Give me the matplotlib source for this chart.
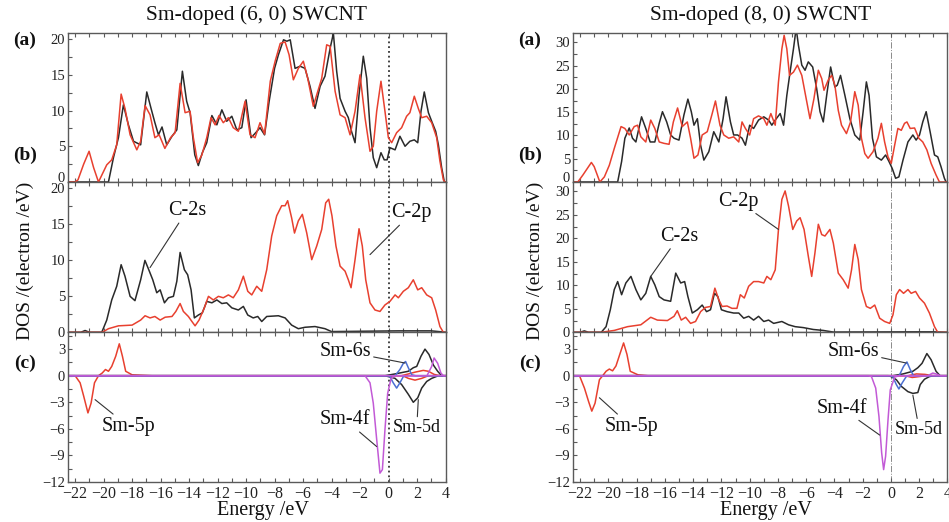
import matplotlib
matplotlib.use("Agg")
import matplotlib.pyplot as plt
from matplotlib.ticker import MultipleLocator

plt.rcParams['font.family'] = ['Liberation Serif', 'DejaVu Serif']
plt.rcParams['mathtext.fontset'] = 'stix'

# ---------------- data: (energy eV, DOS) ----------------
titles = ["Sm-doped (6, 0) SWCNT", "Sm-doped (8, 0) SWCNT"]
xticks = [-22, -20, -18, -16, -14, -12, -10, -8, -6, -4, -2, 0, 2, 4]

# (6,0) panel (a): total DOS, pristine-like (black) and Sm-doped (red)
l_a_black = [(-22.5,0),(-19.66,0),(-19.31,3.4),(-18.96,6.2),(-18.61,10.8),(-18.26,8.0),(-17.9,5.7),(-17.4,5.2),(-16.97,12.6),(-16.67,10.3),(-16.4,8.3),(-16.15,6.6),(-15.9,7.7),(-15.57,5.2),(-15.2,6.4),(-14.86,7.3),(-14.47,15.5),(-14.17,11.3),(-13.93,9.7),(-13.6,3.8),(-13.35,2.3),(-13.07,4.1),(-12.76,5.5),(-12.4,9.3),(-12.05,8.0),(-11.7,10.1),(-11.36,8.5),(-11.0,9.2),(-10.65,7.3),(-10.3,7.6),(-10.0,11.5),(-9.65,6.2),(-9.32,6.9),(-9.02,7.6),(-8.7,6.6),(-8.38,11.3),(-8.0,15.9),(-7.73,17.8),(-7.37,19.9),(-7.14,19.7),(-6.9,19.9),(-6.56,15.9),(-6.21,16.2),(-5.86,15.9),(-5.51,13.4),(-5.16,10.3),(-4.8,13.4),(-4.46,14.8),(-4.1,18.7),(-3.87,20.8),(-3.64,15.5),(-3.4,11.7),(-3.05,9.9),(-2.82,9.0),(-2.6,7.1),(-2.35,5.5),(-2.07,12.2),(-1.77,17.6),(-1.53,14.5),(-1.3,7.6),(-1.07,3.4),(-0.83,2.0),(-0.53,4.1),(-0.3,3.1),(-0.1,3.1),(0.1,4.8),(0.46,4.5),(0.8,6.4),(1.16,5.0),(1.5,5.7),(1.81,5.9),(2.05,5.5),(2.28,9.9),(2.51,12.6),(2.8,9.7),(3.03,8.5),(3.31,7.1),(3.5,5.2),(3.73,2.0),(3.92,0),(4.0,0)]
l_a_red = [(-22.5,0),(-22.0,0),(-21.8,0.3),(-21.4,2.5),(-21.02,4.3),(-20.7,2.0),(-20.36,0),(-19.78,2.4),(-19.43,3.1),(-19.08,5.2),(-18.77,12.3),(-18.5,10.3),(-18.14,6.6),(-17.67,4.5),(-17.4,5.7),(-17.09,10.7),(-16.74,9.4),(-16.4,6.2),(-16.1,6.6),(-15.7,4.7),(-15.3,6.2),(-14.98,6.9),(-14.63,13.8),(-14.28,9.7),(-13.93,9.9),(-13.7,6.2),(-13.4,2.7),(-13.1,3.8),(-12.76,6.2),(-12.46,9.0),(-12.17,8.0),(-11.9,9.3),(-11.6,8.3),(-11.24,9.0),(-10.9,7.6),(-10.54,7.1),(-10.07,11.3),(-9.72,6.6),(-9.37,6.2),(-9.02,8.3),(-8.7,6.7),(-8.3,14.1),(-7.96,16.9),(-7.6,19.4),(-7.26,19.6),(-6.98,17.8),(-6.68,14.3),(-6.33,15.9),(-5.98,16.9),(-5.67,14.5),(-5.28,10.6),(-5.04,12.2),(-4.69,14.5),(-4.34,19.2),(-4.1,19.0),(-3.75,12.7),(-3.4,9.4),(-3.05,9.0),(-2.7,6.6),(-2.35,9.9),(-2.0,15.0),(-1.65,9.0),(-1.3,4.3),(-1.07,5.0),(-0.83,9.9),(-0.53,14.1),(-0.25,9.9),(-0.01,6.2),(0.22,5.5),(0.57,6.9),(0.92,7.6),(1.27,9.2),(1.5,9.7),(1.81,12.0),(2.09,10.3),(2.33,9.0),(2.68,9.2),(3.03,8.3),(3.38,6.2),(3.61,2.9),(3.85,0.3),(3.96,0),(4.0,0)]

# (6,0) panel (b): C-2s (black), C-2p (red)
l_b_c2s = [(-22.5,0),(-21.6,0),(-21.3,0.25),(-21.0,0),(-20.13,0),(-19.78,1.7),(-19.43,4.5),(-19.08,6.4),(-18.77,9.4),(-18.5,7.8),(-18.14,5.0),(-17.8,4.4),(-17.4,7.3),(-17.1,10.0),(-16.83,8.7),(-16.55,7.3),(-16.27,5.5),(-16.03,5.9),(-15.73,4.1),(-15.45,4.8),(-15.1,5.0),(-14.86,7.1),(-14.63,11.1),(-14.33,8.7),(-14.1,8.0),(-13.86,5.9),(-13.63,2.0),(-13.35,2.4),(-13.07,2.7),(-12.76,4.3),(-12.4,4.1),(-12.05,4.5),(-11.7,4.0),(-11.36,4.1),(-11.0,3.4),(-10.54,3.1),(-10.19,3.6),(-9.88,2.4),(-9.5,2.0),(-9.18,2.2),(-8.9,1.5),(-8.55,2.2),(-7.73,2.3),(-7.26,2.0),(-6.8,1.0),(-6.33,0.5),(-5.86,0.7),(-5.16,0.8),(-4.46,0.5),(-4.0,0.1),(0.7,0.2),(3.0,0.2),(3.8,0.05),(4.0,0)]
l_b_c2p = [(-22.5,0),(-20.1,0),(-19.66,0.5),(-18.96,0.9),(-18.0,1.0),(-17.4,1.7),(-17.09,2.3),(-16.74,2.0),(-16.4,2.2),(-16.03,1.7),(-15.68,2.1),(-15.2,2.2),(-14.93,2.9),(-14.63,4.0),(-14.4,2.9),(-14.05,2.2),(-13.8,1.5),(-13.58,0.9),(-13.3,1.7),(-12.93,3.4),(-12.64,5.0),(-12.3,4.5),(-11.94,5.0),(-11.6,4.8),(-11.24,5.2),(-10.9,4.8),(-10.54,5.9),(-10.19,7.8),(-9.88,5.7),(-9.6,5.2),(-9.25,6.4),(-8.9,5.7),(-8.55,8.7),(-8.2,13.4),(-7.85,16.2),(-7.5,17.6),(-7.26,17.6),(-7.08,18.3),(-6.8,15.9),(-6.6,13.8),(-6.33,15.5),(-6.05,16.4),(-5.74,13.8),(-5.39,10.1),(-5.04,12.0),(-4.69,14.3),(-4.41,18.0),(-4.2,18.5),(-3.97,16.2),(-3.69,12.0),(-3.4,9.2),(-3.05,8.5),(-2.82,7.3),(-2.63,6.2),(-2.35,10.1),(-2.07,14.4),(-1.84,12.0),(-1.6,7.3),(-1.3,4.1),(-0.95,3.1),(-0.6,2.9),(-0.25,3.8),(0.1,4.3),(0.46,5.2),(0.69,4.8),(1.04,5.7),(1.39,6.2),(1.74,7.3),(2.05,5.9),(2.33,6.2),(2.68,5.2),(3.03,4.8),(3.31,3.1),(3.61,0.8),(3.85,0),(4.0,0)]

# (6,0) panel (c): Sm PDOS, spin up (+) and spin down (-)
l_c_5p_up = [(-22.5,0),(-20.36,0),(-20.1,0.3),(-19.87,0.7),(-19.66,0.5),(-19.43,1.05),(-19.15,2.2),(-18.9,3.6),(-18.68,2.2),(-18.45,0.5),(-18.0,0.1),(-16.6,0),(0.9,0),(1.16,0.1),(1.86,0.4),(2.44,0.6),(2.8,0.5),(3.2,0.15),(3.6,0),(4.0,0)]
l_c_5p_dn = [(-22.5,0),(-22.0,0),(-21.65,-0.8),(-21.4,-2.3),(-21.1,-4.2),(-20.88,-3.1),(-20.64,-0.8),(-20.36,0),(1.0,0),(1.39,-0.3),(1.86,-0.5),(2.33,-0.3),(2.8,0),(4.0,0)]
l_c_5d_up = [(-22.5,0),(-0.25,0),(0.46,0.2),(1.39,0.5),(1.74,0.9),(1.98,1.05),(2.28,2.2),(2.56,3.0),(2.84,2.4),(3.15,1.2),(3.45,0.5),(3.73,0),(4.0,0)]
l_c_5d_dn = [(-22.5,0),(-0.25,0),(0.46,-0.3),(0.92,-1.0),(1.39,-2.1),(1.74,-3.0),(2.05,-2.5),(2.33,-1.4),(2.68,-0.65),(3.03,-0.3),(3.5,0),(4.0,0)]
l_c_6s_up = [(-22.5,0),(0.46,0),(0.8,0.7),(1.04,1.4),(1.2,1.6),(1.39,0.9),(1.63,0.1),(1.9,0),(4.0,0)]
l_c_6s_dn = [(-22.5,0),(0.0,0),(0.1,-0.1),(0.33,-0.8),(0.57,-1.4),(0.8,-0.8),(1.04,-0.1),(1.3,0),(4.0,0)]
l_c_4f_up = [(-22.5,0),(2.7,0),(3.03,1.05),(3.2,2.0),(3.45,1.4),(3.68,0.3),(3.85,0),(4.0,0)]
l_c_4f_dn = [(-22.5,0),(-1.65,0),(-1.3,-0.8),(-1.07,-3.1),(-0.83,-7.2),(-0.6,-11.0),(-0.43,-10.6),(-0.25,-6.1),(-0.06,-2.0),(0.18,-0.3),(0.46,0),(4.0,0)]

# (8,0) panel (a)
r_a_black = [(-22.5,0),(-19.34,0),(-19.06,4.4),(-18.83,9.4),(-18.52,11.6),(-18.29,9.4),(-18.05,8.6),(-17.89,10.8),(-17.65,14.0),(-17.35,11.5),(-17.04,8.6),(-16.71,8.6),(-16.4,12.6),(-16.17,15.1),(-15.87,12.9),(-15.59,10.1),(-15.35,9.4),(-15.0,9.0),(-14.65,14.4),(-14.37,17.8),(-14.13,15.1),(-13.94,12.2),(-13.7,13.6),(-13.47,7.9),(-13.24,4.7),(-12.89,6.5),(-12.54,10.8),(-12.18,8.6),(-11.88,13.6),(-11.67,18.3),(-11.36,12.9),(-11.13,10.1),(-10.85,10.1),(-10.54,9.4),(-10.3,7.9),(-10.0,12.2),(-9.72,11.5),(-9.37,13.3),(-9.0,14.0),(-8.66,13.3),(-8.43,12.2),(-8.19,13.3),(-7.84,14.7),(-7.6,12.2),(-7.37,18.6),(-7.14,23.6),(-6.9,28.6),(-6.71,33.0),(-6.55,29.4),(-6.31,25.1),(-6.08,24.0),(-5.85,25.8),(-5.54,24.7),(-5.26,20.1),(-5.02,15.1),(-4.79,12.9),(-4.55,18.6),(-4.27,24.7),(-3.97,20.4),(-3.8,20.8),(-3.57,22.9),(-3.26,18.6),(-2.91,13.6),(-2.56,10.1),(-2.21,9.0),(-1.97,15.1),(-1.74,21.5),(-1.55,18.6),(-1.31,9.4),(-1.03,5.4),(-0.68,4.7),(-0.38,5.8),(-0.14,4.4),(0.09,2.9),(0.33,0.8),(0.56,1.1),(0.85,4.7),(1.2,8.6),(1.55,10.1),(1.78,9.0),(2.02,10.1),(2.25,12.9),(2.49,15.1),(2.77,10.8),(3.08,5.8),(3.31,5.4),(3.54,3.3),(3.78,0.8),(3.9,0),(4.0,0)]
r_a_red = [(-22.5,0),(-22.16,0),(-21.8,1.5),(-21.2,4.2),(-21.0,3.3),(-20.6,0),(-20.28,1.1),(-19.93,3.6),(-19.58,7.2),(-19.1,11.9),(-18.83,11.5),(-18.52,10.1),(-18.17,11.9),(-17.93,12.2),(-17.7,9.7),(-17.35,8.6),(-17.0,13.3),(-16.71,11.5),(-16.4,8.6),(-16.06,8.3),(-15.7,8.1),(-15.4,12.9),(-15.1,15.9),(-14.77,11.9),(-14.41,12.9),(-14.18,9.4),(-13.94,5.1),(-13.66,5.8),(-13.36,10.1),(-13.0,10.8),(-12.65,14.7),(-12.42,17.4),(-12.1,12.2),(-11.83,10.1),(-11.48,9.4),(-11.13,9.7),(-10.77,8.6),(-10.54,12.9),(-10.3,11.5),(-10.0,10.1),(-9.72,13.6),(-9.37,14.2),(-9.0,13.6),(-8.78,12.2),(-8.5,14.7),(-8.19,12.2),(-7.96,21.5),(-7.72,28.6),(-7.56,31.5),(-7.37,28.6),(-7.18,22.9),(-6.9,23.6),(-6.62,25.1),(-6.31,22.9),(-6.0,17.9),(-5.73,13.6),(-5.45,17.9),(-5.14,24.0),(-4.9,22.2),(-4.74,19.7),(-4.44,21.9),(-4.2,22.9),(-3.97,20.8),(-3.73,15.4),(-3.5,12.2),(-3.15,10.4),(-2.86,12.9),(-2.56,19.4),(-2.32,16.5),(-2.09,9.4),(-1.85,6.1),(-1.62,5.1),(-1.27,6.5),(-0.92,9.4),(-0.68,12.6),(-0.45,8.6),(-0.21,5.4),(0.02,4.0),(0.26,7.9),(0.49,11.5),(0.73,11.1),(0.96,12.6),(1.13,12.9),(1.36,11.5),(1.67,11.6),(1.97,9.4),(2.25,8.6),(2.54,6.9),(2.84,4.0),(3.19,1.5),(3.43,0),(4.0,0)]

# (8,0) panel (b)
r_b_c2s = [(-22.5,0),(-22.0,0),(-21.7,0.3),(-21.4,0),(-20.5,0),(-20.16,1.2),(-19.86,4.8),(-19.58,9.1),(-19.34,10.8),(-19.06,8.0),(-18.76,10.5),(-18.4,11.9),(-18.05,9.1),(-17.7,6.9),(-17.35,8.3),(-17.0,11.9),(-16.71,10.1),(-16.4,7.6),(-16.06,6.9),(-15.59,6.6),(-15.23,12.6),(-14.88,10.5),(-14.6,10.8),(-14.37,7.6),(-14.06,4.1),(-13.7,4.8),(-13.36,5.8),(-13.05,4.4),(-12.77,4.8),(-12.49,8.3),(-12.25,7.6),(-12.0,4.8),(-11.6,4.4),(-11.13,4.1),(-10.77,4.1),(-10.42,3.0),(-10.07,3.4),(-9.72,2.6),(-9.37,3.4),(-9.0,2.3),(-8.66,2.6),(-8.3,1.9),(-7.72,2.3),(-7.25,1.6),(-6.78,1.2),(-6.2,1.0),(-5.5,0.6),(-4.8,0.4),(-4.08,0.05),(2.0,0.1),(3.0,0.1),(4.0,0)]
r_b_c2p = [(-22.5,0),(-20.5,0),(-19.58,0.4),(-18.64,1.2),(-17.7,1.6),(-17.0,3.2),(-16.53,2.6),(-15.82,2.5),(-15.35,3.4),(-15.12,4.6),(-14.84,2.6),(-14.53,3.2),(-14.18,1.9),(-13.83,2.3),(-13.47,4.4),(-13.12,5.3),(-12.77,5.5),(-12.46,9.4),(-12.18,6.9),(-11.95,5.5),(-11.6,5.6),(-11.25,5.1),(-10.9,5.1),(-10.66,8.0),(-10.38,7.3),(-10.07,9.8),(-9.72,10.8),(-9.37,10.8),(-9.0,10.5),(-8.78,11.9),(-8.5,11.2),(-8.19,13.3),(-7.96,21.9),(-7.72,28.3),(-7.49,30.1),(-7.25,26.9),(-6.95,21.9),(-6.67,23.7),(-6.43,24.4),(-6.15,21.9),(-5.85,16.2),(-5.61,11.9),(-5.38,16.9),(-5.14,23.0),(-4.9,20.8),(-4.67,20.5),(-4.32,21.9),(-4.08,19.0),(-3.73,12.6),(-3.38,11.2),(-3.03,9.4),(-2.79,13.3),(-2.56,18.7),(-2.32,15.5),(-2.09,9.1),(-1.74,5.5),(-1.46,5.1),(-1.15,5.8),(-0.8,3.0),(-0.45,2.3),(-0.09,1.9),(0.14,3.7),(0.38,8.0),(0.61,9.1),(0.89,8.3),(1.2,9.1),(1.43,8.3),(1.74,8.7),(2.02,7.3),(2.37,6.2),(2.72,4.1),(3.08,1.2),(3.31,0),(4.0,0)]

# (8,0) panel (c)
r_c_5p_up = [(-22.5,0),(-20.4,0),(-20.16,0.5),(-19.93,0.75),(-19.7,0.55),(-19.46,1.1),(-19.15,2.6),(-18.92,3.7),(-18.68,2.4),(-18.45,0.5),(-17.9,0.1),(-17.2,0),(1.2,0),(1.8,0.2),(2.4,0.15),(3.0,0),(4.0,0)]
r_c_5p_dn = [(-22.5,0),(-22.04,0),(-21.69,-1.4),(-21.4,-2.9),(-21.17,-4.0),(-20.94,-3.1),(-20.63,-0.45),(-20.4,0),(1.0,0),(1.5,-0.2),(2.0,-0.1),(2.5,0),(4.0,0)]
r_c_5d_up = [(-22.5,0),(0.14,0),(0.85,0.2),(1.55,0.5),(1.9,0.9),(2.2,1.4),(2.54,2.5),(2.84,1.8),(3.19,0.5),(3.47,0),(4.0,0)]
r_c_5d_dn = [(-22.5,0),(-0.2,0),(0.02,-0.1),(0.38,-0.45),(0.73,-1.2),(1.2,-1.8),(1.55,-2.0),(1.9,-1.9),(2.07,-1.0),(2.37,-0.4),(2.72,-0.1),(3.0,0),(4.0,0)]
r_c_6s_up = [(-22.5,0),(0.5,0),(0.61,0.1),(0.89,1.05),(1.13,1.55),(1.36,0.7),(1.6,0),(4.0,0)]
r_c_6s_dn = [(-22.5,0),(0.0,0),(0.14,-0.15),(0.38,-1.0),(0.56,-1.5),(0.8,-0.8),(1.08,-0.1),(1.3,0),(4.0,0)]
r_c_4f_up = [(-22.5,0),(2.6,0),(2.96,0.3),(3.2,0.2),(3.5,0),(4.0,0)]
r_c_4f_dn = [(-22.5,0),(-1.6,0),(-1.38,-0.1),(-1.08,-1.4),(-0.85,-4.6),(-0.66,-8.7),(-0.52,-10.6),(-0.38,-9.1),(-0.21,-5.0),(-0.05,-1.6),(0.26,-0.15),(0.61,0),(4.0,0)]

# ---------------- styling ----------------
BLACK = '#2a2a2a'
RED = '#e8402f'
BLUE = '#4b6fd2'
PURPLE = '#c25ad6'
SPINE = '#5a5a5a'
LW = 1.1

W, H = 949, 522
fig = plt.figure(figsize=(W / 100, H / 100), dpi=100)


def fx(px):
    return px / W


def fy(py):
    return 1 - py / H


cols = [dict(x0=68, x1=445.5, ylab_x=25, fermi=dict(ls=':', color='#333333', lw=1.3)),
        dict(x0=573, x1=947.5, ylab_x=535, fermi=dict(ls='-.', color='#8a8a8a', lw=0.7))]
rows = [(33, 182), (182, 332.3), (332.3, 482)]


def line(ax, pts, color, lw=LW):
    xs = [p[0] for p in pts]
    ys = [p[1] for p in pts]
    ax.plot(xs, ys, color=color, lw=lw, solid_joinstyle='round')


def setup(ax, ylim, ymin_, yticks, bottom_labels, fermi):
    ax.set_xlim(-22.5, 4)
    ax.set_ylim(*ylim)
    ax.set_xticks(xticks)
    ax.xaxis.set_minor_locator(MultipleLocator(1))
    ax.set_yticks(yticks)
    ax.yaxis.set_minor_locator(MultipleLocator(ymin_))
    ax.tick_params(axis='both', which='both', direction='in', colors=SPINE,
                   top=True, right=False, length=3, width=0.8)
    ax.tick_params(axis='x', labelsize=11.5, labelcolor='#222222', pad=3,
                   labelbottom=bottom_labels)
    ax.tick_params(axis='y', labelsize=10.5, labelcolor='#222222', pad=2)
    for s in ax.spines.values():
        s.set_color(SPINE)
        s.set_linewidth(1.0)
    ax.axvline(0, zorder=1, **fermi)


def annot(ax, text, xytext, xy, size=14.5):
    ax.annotate(text, xy=xy, xytext=xytext, fontsize=size, color='#111111',
                ha='center', va='center',
                arrowprops=dict(arrowstyle='-', color='#333333', lw=0.8,
                                shrinkA=0, shrinkB=0))


data = [
    dict(a=(l_a_black, l_a_red), b=(l_b_c2s, l_b_c2p),
         c=dict(p5=(l_c_5p_up, l_c_5p_dn), d5=(l_c_5d_up, l_c_5d_dn),
                s6=(l_c_6s_up, l_c_6s_dn), f4=(l_c_4f_up, l_c_4f_dn)),
         ylim_a=(0, 20.85), ylim_b=(0, 20.9), yt_a=[0, 5, 10, 15, 20]),
    dict(a=(r_a_black, r_a_red), b=(r_b_c2s, r_b_c2p),
         c=dict(p5=(r_c_5p_up, r_c_5p_dn), d5=(r_c_5d_up, r_c_5d_dn),
                s6=(r_c_6s_up, r_c_6s_dn), f4=(r_c_4f_up, r_c_4f_dn)),
         ylim_a=(0, 32), ylim_b=(0, 32), yt_a=[0, 5, 10, 15, 20, 25, 30]),
]

for ci, (col, d) in enumerate(zip(cols, data)):
    axes = []
    for (top, bot) in rows:
        ax = fig.add_axes([fx(col['x0']), fy(bot), fx(col['x1'] - col['x0']), (bot - top) / H])
        axes.append(ax)
    ax_a, ax_b, ax_c = axes

    setup(ax_a, d['ylim_a'], 2.5, d['yt_a'], False, col['fermi'])
    line(ax_a, d['a'][0], BLACK)
    line(ax_a, d['a'][1], RED)

    setup(ax_b, d['ylim_b'], 2.5, d['yt_a'], False, col['fermi'])
    line(ax_b, d['b'][0], BLACK)
    line(ax_b, d['b'][1], RED)

    setup(ax_c, (-12, 4.9), 1.5, [-12, -9, -6, -3, 0, 3], True, col['fermi'])
    c = d['c']
    for pts in c['p5']:
        line(ax_c, pts, RED)
    for pts in c['d5']:
        line(ax_c, pts, BLACK)
    for pts in c['s6']:
        line(ax_c, pts, BLUE)
    for pts in c['f4']:
        line(ax_c, pts, PURPLE)

    # lift the "0" label of panel (a) slightly so it does not collide with panel (b)'s top label
    ax_a.get_yticklabels()[0].set_verticalalignment('baseline')

    xc = (col['x0'] + col['x1']) / 2
    fig.text(fx(xc), fy(15), titles[ci], ha='center', va='center', fontsize=15.5, color='#111111')
    fig.text(fx(xc + 6), fy(511), 'Energy /eV', ha='center', va='center', fontsize=14.5, color='#111111')
    fig.text(fx(col['ylab_x']), fy(261), 'DOS /(electron /eV)', rotation=90,
             ha='center', va='center', fontsize=14, color='#111111')
    lx = col['x0'] - 43
    for lab, py in [('(a)', 40), ('(b)', 155), ('(c)', 363)]:
        fig.text(fx(lx), fy(py), lab, ha='center', va='center', fontsize=14,
                 fontweight='bold', color='#111111')

    if ci == 0:
        annot(ax_b, 'C-2s', (-14.16, 16.9), (-16.74, 9.0))
        annot(ax_b, 'C-2p', (1.63, 16.6), (-1.3, 10.8))
        annot(ax_c, 'Sm-6s', (-3.05, 2.74), (1.16, 1.43))
        annot(ax_c, 'Sm-5p', (-18.26, -5.72), (-20.6, -2.7))
        annot(ax_c, 'Sm-4f', (-3.05, -4.97), (-0.83, -8.0))
        annot(ax_c, 'Sm-5d', (1.98, -5.9), (2.09, -2.7), size=13)
    else:
        annot(ax_b, 'C-2s', (-15.0, 20.4), (-17.0, 11.9))
        annot(ax_b, 'C-2p', (-10.8, 27.9), (-7.96, 21.9))
        annot(ax_c, 'Sm-6s', (-2.68, 2.74), (1.08, 1.43))
        annot(ax_c, 'Sm-5p', (-18.4, -5.72), (-20.63, -2.49))
        annot(ax_c, 'Sm-4f', (-3.5, -3.65), (-0.8, -6.7))
        annot(ax_c, 'Sm-5d', (2.0, -6.1), (1.55, -2.2), size=13)

fig.savefig('out.png', dpi=100)
